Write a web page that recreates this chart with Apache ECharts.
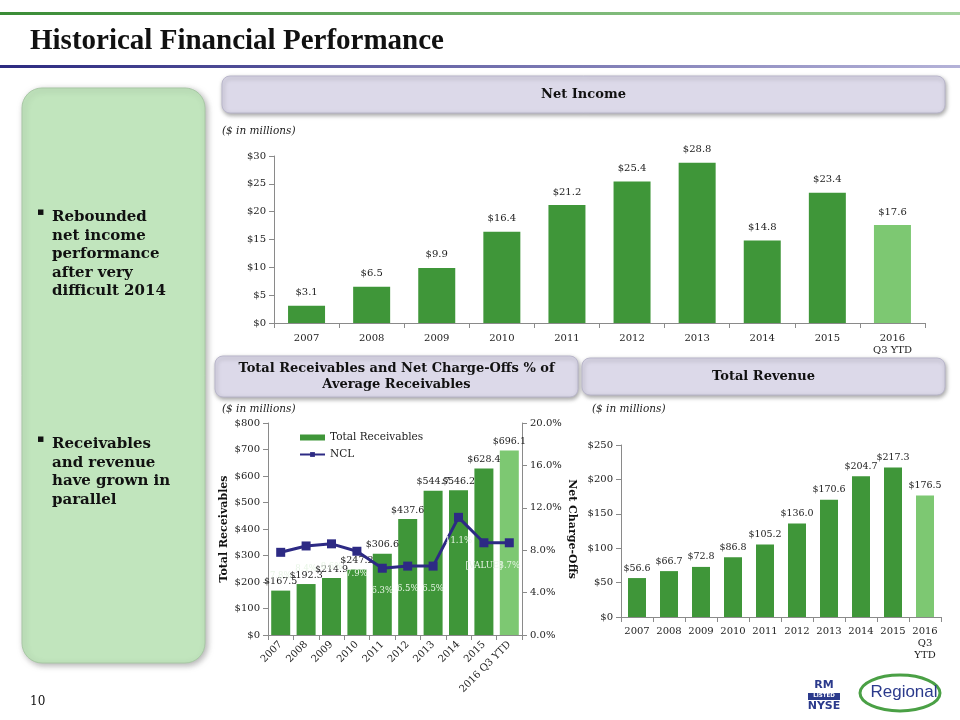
<!DOCTYPE html>
<html><head><meta charset="utf-8">
<script src="https://cdn.jsdelivr.net/npm/echarts@6/dist/echarts.min.js"></script>
<style>html,body{margin:0;padding:0;background:#fff}#c{width:960px;height:720px}</style>
</head><body><div id="c"></div>
<script>
const years = ['2007','2008','2009','2010','2011','2012','2013','2014','2015','2016'];
const niLabels = ['2007','2008','2009','2010','2011','2012','2013','2014','2015','2016\nQ3 YTD'];
const recLabels = ['2007','2008','2009','2010','2011','2012','2013','2014','2015','2016 Q3 YTD'];
const revLabels = ['2007','2008','2009','2010','2011','2012','2013','2014','2015','2016\nQ3\nYTD'];
const netIncome = [3.1, 6.5, 9.9, 16.4, 21.2, 25.4, 28.8, 14.8, 23.4, 17.6];
const receivables = [167.5, 192.3, 214.9, 247.2, 306.6, 437.6, 544.7, 546.2, 628.4, 696.1];
const ncl = [7.8, 8.4, 8.6, 7.9, 6.3, 6.5, 6.5, 11.1, 8.7, 8.7];
const nclLabels = ['7.8%','8.4%','8.6%','7.9%','6.3%','6.5%','6.5%','11.1%','[VALUE]','8.7%'];
const revenue = [56.6, 66.7, 72.8, 86.8, 105.2, 136.0, 170.6, 204.7, 217.3, 176.5];

const DARK = '#3f9639', LIGHT = '#7dc872';
const SERIF = 'DejaVu Serif';
const TXT = '#222';
function colored(arr){ return arr.map((v,i)=>({value:v, itemStyle:{color: i===arr.length-1?LIGHT:DARK}})); }
const axisLine = {show:true, lineStyle:{color:'#8a8a8a'}};
const tick = {show:true, lineStyle:{color:'#8a8a8a'}};
const lab = {fontFamily:SERIF, fontSize:10, color:TXT};

const chart = echarts.init(document.getElementById('c'), null, {renderer:'canvas'});
function headerBox(x,y,w,h,text){
  return {type:'group', children:[
    {type:'rect', shape:{x:x,y:y,width:w,height:h,r:8}, style:{fill:'#dcd9e9', stroke:'#b9b6cb', lineWidth:1, shadowBlur:4, shadowOffsetX:1, shadowOffsetY:2, shadowColor:'rgba(0,0,0,0.35)'}},
    {type:'text', x:x+w/2, y:y+h/2, style:{text:text, fontFamily:SERIF, fontWeight:'bold', fontSize:13, fill:'#111', align:'center', verticalAlign:'middle', lineHeight:16}}
  ]};
}
chart.setOption({
  animation:false,
  graphic:[
    {type:'rect', shape:{x:0,y:12,width:960,height:3}, style:{fill:new echarts.graphic.LinearGradient(0,0,1,0,[{offset:0,color:'#3a8c36'},{offset:1,color:'#a6d4a0'}])}},
    {type:'rect', shape:{x:0,y:65,width:960,height:3}, style:{fill:new echarts.graphic.LinearGradient(0,0,1,0,[{offset:0,color:'#2c2a80'},{offset:1,color:'#b4b2d8'}])}},
    {type:'text', x:30, y:42, style:{text:'Historical Financial Performance', fontFamily:'Liberation Serif', fontWeight:'bold', fontSize:29, fill:'#111', verticalAlign:'middle'}},
    {type:'rect', shape:{x:22,y:88,width:183,height:575,r:20}, style:{fill:'#c1e5bd', stroke:'#a8c8a5', lineWidth:1, shadowBlur:6, shadowOffsetX:2, shadowOffsetY:2, shadowColor:'rgba(0,0,0,0.3)'}},
    {type:'text', x:37, y:207, style:{text:'▪', fontFamily:SERIF, fontSize:11, fill:'#111'}},
    {type:'text', x:52, y:208, style:{text:'Rebounded\nnet income\nperformance\nafter very\ndifficult 2014', fontFamily:SERIF, fontWeight:'bold', fontSize:15, lineHeight:18.5, fill:'#111'}},
    {type:'text', x:37, y:434, style:{text:'▪', fontFamily:SERIF, fontSize:11, fill:'#111'}},
    {type:'text', x:52, y:435, style:{text:'Receivables\nand revenue\nhave grown in\nparallel', fontFamily:SERIF, fontWeight:'bold', fontSize:15, lineHeight:18.5, fill:'#111'}},
    headerBox(222,76,723,37,'Net Income'),
    headerBox(215,356,363,41,'Total Receivables and Net Charge-Offs % of\nAverage Receivables'),
    headerBox(582,358,363,37,'Total Revenue'),
    {type:'text', x:222, y:126, style:{text:'($ in millions)', fontFamily:SERIF, fontStyle:'italic', fontSize:10.5, fill:TXT}},
    {type:'text', x:222, y:404, style:{text:'($ in millions)', fontFamily:SERIF, fontStyle:'italic', fontSize:10.5, fill:TXT}},
    {type:'text', x:592, y:404, style:{text:'($ in millions)', fontFamily:SERIF, fontStyle:'italic', fontSize:10.5, fill:TXT}},
    {type:'text', x:30, y:696, style:{text:'10', fontFamily:SERIF, fontSize:12, fill:'#111'}},
    {type:'text', x:824, y:680, style:{text:'RM', fontFamily:'DejaVu Sans', fontWeight:'bold', fontSize:11, fill:'#2b3a8c', align:'center'}},
    {type:'rect', shape:{x:808,y:693,width:32,height:7}, style:{fill:'#2b3a8c'}},
    {type:'text', x:824, y:693, style:{text:'LISTED', fontFamily:'DejaVu Sans', fontWeight:'bold', fontSize:5.5, fill:'#fff', align:'center'}},
    {type:'text', x:824, y:701, style:{text:'NYSE', fontFamily:'DejaVu Sans', fontWeight:'bold', fontSize:11, fill:'#2b3a8c', align:'center'}},
    {type:'ellipse', shape:{cx:900,cy:693,rx:40,ry:18}, style:{fill:'none', stroke:'#4aa045', lineWidth:3}},
    {type:'text', x:904, y:692, style:{text:'Regional', fontFamily:'Liberation Sans', fontSize:17, fill:'#2b3a8c', align:'center', verticalAlign:'middle'}}
  ],
  legend:{
    left:294, top:427, orient:'vertical', itemGap:6, itemWidth:25, itemHeight:6,
    textStyle:{fontFamily:SERIF, fontSize:10.5, color:TXT},
    data:[{name:'Total Receivables', icon:'rect'}, {name:'NCL'}]
  },
  grid:[
    {left:274, top:156, width:651, height:167},
    {left:268, top:423, width:254, height:212},
    {left:621, top:445, width:320, height:172}
  ],
  xAxis:[
    {type:'category', gridIndex:0, data:niLabels, axisLine:axisLine, axisTick:tick, axisLabel:Object.assign({margin:9, lineHeight:12, interval:0},lab)},
    {type:'category', gridIndex:1, data:recLabels, axisLine:axisLine, axisTick:tick, axisLabel:Object.assign({rotate:45, margin:8, interval:0},lab)},
    {type:'category', gridIndex:2, data:revLabels, axisLine:axisLine, axisTick:tick, axisLabel:Object.assign({margin:8, lineHeight:12, interval:0},lab)}
  ],
  yAxis:[
    {type:'value', gridIndex:0, min:0, max:30, interval:5, axisLine:axisLine, axisTick:tick, splitLine:{show:false}, axisLabel:Object.assign({formatter:v=>'$'+v},lab)},
    {type:'value', gridIndex:1, min:0, max:800, interval:100, axisLine:axisLine, axisTick:tick, splitLine:{show:false}, axisLabel:Object.assign({formatter:v=>'$'+v},lab),
      name:'Total Receivables', nameLocation:'middle', nameGap:38, nameRotate:90, nameTextStyle:{fontFamily:SERIF, fontWeight:'bold', fontSize:11, color:'#111'}},
    {type:'value', gridIndex:1, position:'right', min:0, max:20, interval:4, axisLine:axisLine, axisTick:tick, splitLine:{show:false}, axisLabel:Object.assign({formatter:v=>v.toFixed(1)+'%'},lab),
      name:'Net Charge-Offs', nameLocation:'middle', nameGap:44, nameRotate:-90, nameTextStyle:{fontFamily:SERIF, fontWeight:'bold', fontSize:11, color:'#111'}},
    {type:'value', gridIndex:2, min:0, max:250, interval:50, axisLine:axisLine, axisTick:tick, splitLine:{show:false}, axisLabel:Object.assign({formatter:v=>'$'+v},lab)}
  ],
  series:[
    {type:'bar', name:'Net Income', xAxisIndex:0, yAxisIndex:0, barWidth:37, data:colored(netIncome),
      label:{show:true, position:'top', distance:8, fontFamily:SERIF, fontSize:10, color:TXT, formatter:p=>'$'+p.value.toFixed(1)}},
    {type:'bar', name:'Total Receivables', xAxisIndex:1, yAxisIndex:1, barWidth:19, itemStyle:{color:DARK}, data:colored(receivables),
      label:{show:true, position:'top', distance:4, fontFamily:SERIF, fontSize:9.5, color:TXT, formatter:p=>'$'+p.value.toFixed(1)}},
    {type:'line', name:'NCL', xAxisIndex:1, yAxisIndex:2, data:ncl, symbol:'rect', symbolSize:9,
      itemStyle:{color:'#2d2a84'}, lineStyle:{color:'#2d2a84', width:3},
      label:{show:true, position:'bottom', distance:14, fontFamily:SERIF, fontSize:8.5, color:'#e8f5e6', formatter:p=>nclLabels[p.dataIndex]}},
    {type:'bar', name:'Total Revenue', xAxisIndex:2, yAxisIndex:3, barWidth:18, data:colored(revenue),
      label:{show:true, position:'top', distance:5, fontFamily:SERIF, fontSize:9.5, color:TXT, formatter:p=>'$'+p.value.toFixed(1)}}
  ]
});
</script></body></html>
